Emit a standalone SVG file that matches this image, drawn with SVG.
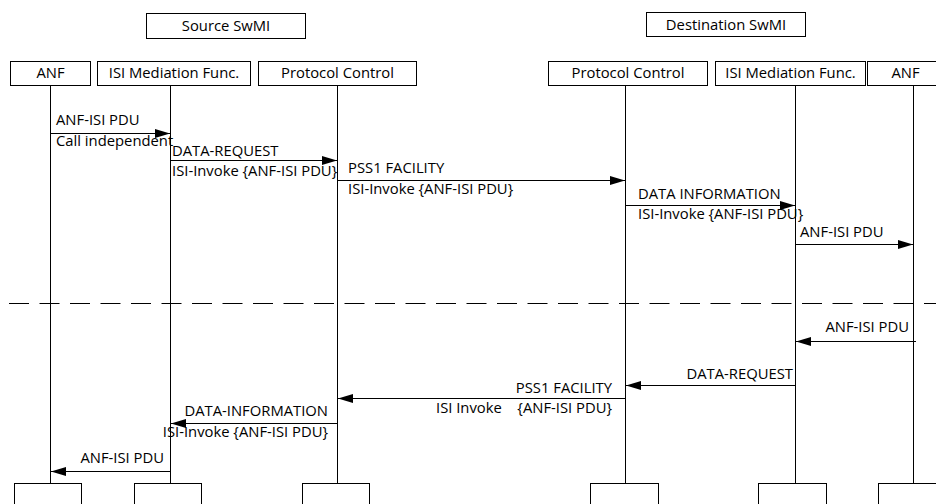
<svg xmlns="http://www.w3.org/2000/svg" width="936" height="504" viewBox="0 0 936 504">
<style>
text{font-family:"Open Sans","Liberation Sans",Arial,sans-serif;font-size:14.8px;fill:#000}
.c{text-anchor:middle}
.e{text-anchor:end}
rect{fill:#fff;stroke:#000;stroke-width:1}
line{stroke:#000;stroke-width:1}
.msg{marker-end:url(#ah)}
.dash{stroke-dasharray:20 10.5}
</style>
<defs>
<marker id="ah" markerUnits="userSpaceOnUse" markerWidth="15" markerHeight="9" refX="15" refY="4.5" orient="auto">
<path d="M0,0 L15,4.5 L0,9 z" fill="#000"/>
</marker>
</defs>
<rect width="936" height="504" style="fill:#fff;stroke:none"/>
<g id="source-swmi"><rect x="146.5" y="13.5" width="159" height="25"/><text class="c" x="226" y="31">Source SwMI</text></g>
<g id="dest-swmi"><rect x="646.5" y="12.5" width="159" height="24"/><text class="c" x="726" y="30">Destination SwMI</text></g>
<g id="lifelines">
<line x1="50.5" y1="85" x2="50.5" y2="483"/>
<line x1="170.5" y1="85" x2="170.5" y2="483"/>
<line x1="337.5" y1="85" x2="337.5" y2="483"/>
<line x1="625.5" y1="85" x2="625.5" y2="483"/>
<line x1="795.5" y1="85" x2="795.5" y2="483"/>
<line x1="913.5" y1="85" x2="913.5" y2="483"/>
</g>
<g id="anf-src"><rect x="10.5" y="61.5" width="80" height="24"/><text class="c" x="50.5" y="78">ANF</text><rect x="14.5" y="483.5" width="67" height="40"/></g>
<g id="isi-src"><rect x="97.5" y="61.5" width="153" height="24"/><text class="c" x="174" y="78">ISI Mediation Func.</text><rect x="134.5" y="483.5" width="67" height="40"/></g>
<g id="pc-src"><rect x="258.5" y="61.5" width="158" height="24"/><text class="c" x="337.5" y="78">Protocol Control</text><rect x="302.5" y="483.5" width="67" height="40"/></g>
<g id="pc-dst"><rect x="548.5" y="61.5" width="159" height="24"/><text class="c" x="628" y="78">Protocol Control</text><rect x="590.5" y="483.5" width="68" height="40"/></g>
<g id="isi-dst"><rect x="715.5" y="61.5" width="150" height="24"/><text class="c" x="790.5" y="78">ISI Mediation Func.</text><rect x="758.5" y="483.5" width="68" height="40"/></g>
<g id="anf-dst"><rect x="867.5" y="61.5" width="76" height="24"/><text class="c" x="905.5" y="78">ANF</text><rect x="878.5" y="483.5" width="67" height="40"/></g>
<g id="connectors">
<line class="msg" x1="50" y1="133.5" x2="170" y2="133.5"/>
<line class="msg" x1="170" y1="160.5" x2="337" y2="160.5"/>
<line class="msg" x1="337" y1="180.5" x2="625" y2="180.5"/>
<line class="msg" x1="625" y1="205.5" x2="795" y2="205.5"/>
<line class="msg" x1="795" y1="244.5" x2="913" y2="244.5"/>
<line class="dash" x1="9" y1="303.5" x2="936" y2="303.5"/>
<line class="msg" x1="916" y1="341.5" x2="796" y2="341.5"/>
<line class="msg" x1="795" y1="385.5" x2="626" y2="385.5"/>
<line class="msg" x1="625" y1="398.5" x2="338" y2="398.5"/>
<line class="msg" x1="337" y1="423.5" x2="171" y2="423.5"/>
<line class="msg" x1="170" y1="471.5" x2="51" y2="471.5"/>
</g>
<g id="labels">
<text x="56" y="125">ANF-ISI PDU</text>
<text x="56" y="146">Call independent</text>
<text x="172" y="156">DATA-REQUEST</text>
<text x="172" y="176">ISI-Invoke {ANF-ISI PDU}</text>
<text x="348" y="173">PSS1 FACILITY</text>
<text x="348" y="194">ISI-Invoke {ANF-ISI PDU}</text>
<text x="638" y="199">DATA INFORMATION</text>
<text x="638" y="219">ISI-Invoke {ANF-ISI PDU}</text>
<text x="800" y="237">ANF-ISI PDU</text>
<text class="e" x="909" y="332">ANF-ISI PDU</text>
<text class="e" x="793" y="379">DATA-REQUEST</text>
<text class="e" x="612" y="393">PSS1 FACILITY</text>
<text x="436" y="413">ISI Invoke</text>
<text class="e" x="612" y="413">{ANF-ISI PDU}</text>
<text class="e" x="328" y="416">DATA-INFORMATION</text>
<text class="e" x="328" y="437">ISI-Invoke {ANF-ISI PDU}</text>
<text class="e" x="164" y="463">ANF-ISI PDU</text>
</g>
</svg>
